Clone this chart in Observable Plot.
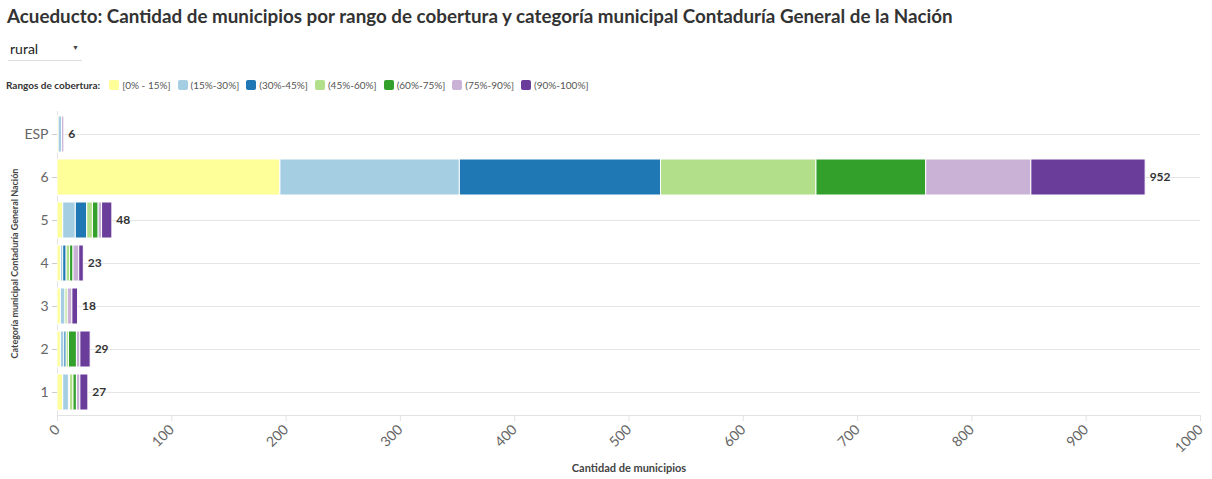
<!DOCTYPE html>
<html>
<head>
<meta charset="utf-8">
<script src="https://cdn.jsdelivr.net/npm/d3@7"></script>
<script src="https://cdn.jsdelivr.net/npm/@observablehq/plot@0.6"></script>
<style>
  html, body { margin: 0; padding: 0; background: #fff; width: 1212px; height: 479px; overflow: hidden; font-family: Lato, "Noto Sans", sans-serif; }
  #title { position: absolute; left: 7px; top: 4px; font-size: 18.8px; font-weight: bold; color: #333; white-space: nowrap; }
  #dropdown { position: absolute; left: 8px; top: 38px; width: 74px; height: 22px; border-bottom: 1px solid #ddd; font-size: 14px; color: #222; }
  #dropdown .t { position: absolute; left: 2px; top: 2px; }
  #dropdown .a { position: absolute; left: 64px; top: 5px; font-size: 7px; color: #444; }
  #legend { position: absolute; left: 6px; top: 79px; font-size: 10px; color: #555; white-space: nowrap; display: flex; align-items: center; }
  #legend .h { font-weight: bold; color: #333; margin-right: 9px; }
  #legend .sw { display: inline-block; width: 10px; height: 10px; border-radius: 2px; margin-right: 3px; }
  #legend .it { display: inline-flex; align-items: center; margin-right: 7px; }
  #chart { position: absolute; left: 0; top: 100px; }
</style>
</head>
<body>
<div id="title">Acueducto: Cantidad de municipios por rango de cobertura y categoría municipal Contaduría General de la Nación</div>
<div id="dropdown"><span class="t">rural</span><span class="a">&#9660;</span></div>
<div id="legend"></div>
<div id="chart"></div>
<script>
const categorias = ["ESP", "6", "5", "4", "3", "2", "1"];
const rangos = ["[0% - 15%]", "(15%-30%]", "(30%-45%]", "(45%-60%]", "(60%-75%]", "(75%-90%]", "(90%-100%]"];
const colores = ["#ffff99", "#a6cee3", "#1f78b4", "#b2df8a", "#33a02c", "#cab2d6", "#6a3d9a"];
const valoresESP = [1, 3, 0, 0, 0, 2, 0];
const valores6 = [195, 157, 176, 136, 96, 92, 100];
const valores5 = [5, 11, 10, 5, 5, 3, 9];
const valores4 = [3, 2, 3, 3, 3, 5, 4];
const valores3 = [3, 4, 0, 2, 0, 4, 5];
const valores2 = [3, 3, 2, 2, 7, 3, 9];
const valores1 = [5, 5, 1, 3, 3, 3, 7];
const xTicks = [0, 100, 200, 300, 400, 500, 600, 700, 800, 900, 1000];

const series = [valoresESP, valores6, valores5, valores4, valores3, valores2, valores1];
const datos = [];
categorias.forEach((c, i) => rangos.forEach((r, j) => datos.push({categoria: c, rango: r, valor: series[i][j]})));
const totales = categorias.map((c, i) => ({categoria: c, total: d3.sum(series[i])}));

// legend
const leg = document.getElementById("legend");
leg.innerHTML = '<span class="h">Rangos de cobertura:</span>' +
  rangos.map((r, j) => `<span class="it"><span class="sw" style="background:${colores[j]}"></span>${r}</span>`).join("");

const chart = Plot.plot({
  width: 1212,
  height: 379,
  marginLeft: 57,
  marginRight: 12,
  marginTop: 11,
  marginBottom: 64,
  style: {fontFamily: "Lato, 'Noto Sans', sans-serif", background: "#fff", overflow: "visible"},
  x: {domain: [0, 1000]},
  y: {domain: categorias, paddingInner: 0.17, paddingOuter: 0.085},
  color: {domain: rangos, range: colores},
  marks: [
    Plot.gridY({stroke: "#e6e6e6", strokeOpacity: 1}),
    Plot.frame({anchor: "bottom", stroke: "#e3e3e3"}),
    Plot.frame({anchor: "left", stroke: "#e3e3e3"}),
    Plot.barX(datos, Plot.stackX({x: "valor", y: "categoria", fill: "rango", order: rangos, stroke: "#fff", strokeWidth: 1})),
    Plot.text(totales, {x: "total", y: "categoria", text: d => String(d.total), dx: 4, textAnchor: "start", fontWeight: "bold", fontSize: 12, fill: "#333"}),
    Plot.axisX(xTicks, {tickRotate: -45, fontSize: 14, color: "#666", tickSize: 6, stroke: "#e3e3e3", label: null, tickFormat: d => String(d)}),
    Plot.axisY({fontSize: 14, color: "#666", tickSize: 5, stroke: "#ccc", label: null, tickPadding: 4}),
    Plot.text(["Cantidad de municipios"], {frameAnchor: "bottom", dy: 56, fontWeight: "bold", fontSize: 11, fill: "#444"}),
    Plot.text(["Categoría municipal Contaduría General Nación"], {frameAnchor: "left", textAnchor: "middle", dx: -42, rotate: -90, fontWeight: "bold", fontSize: 9, fill: "#444"})
  ]
});
document.getElementById("chart").appendChild(chart);
</script>
</body>
</html>
